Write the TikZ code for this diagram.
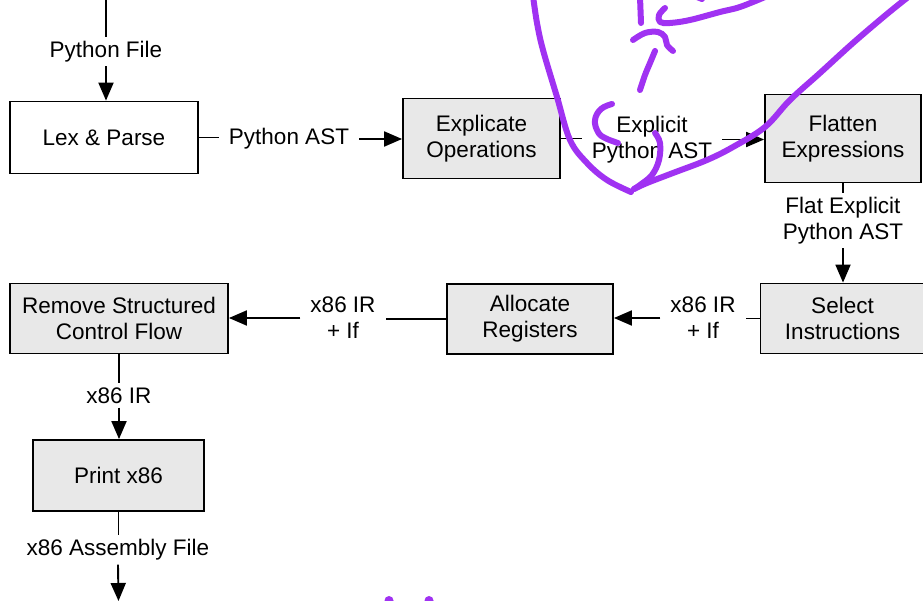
\documentclass[tikz,border=0pt]{standalone}
\usepackage{fontspec}
\setmainfont{Liberation Sans}
\usetikzlibrary{arrows.meta}
\definecolor{boxgray}{RGB}{232,232,232}
\definecolor{scribble}{RGB}{160,50,242}
\begin{document}
\begin{tikzpicture}[x=1pt,y=-1pt,
  every node/.style={font=\fontsize{22.5}{26}\selectfont},
  stage/.style={draw=black,line width=1.8pt,fill=boxgray,align=center,inner sep=0pt},
  lbl/.style={align=center,inner xsep=10pt,inner ysep=4pt,fill=white},
  conn/.style={line width=1.9pt},
  arr/.style={line width=1.9pt,-{Triangle[length=18pt,width=15pt]}},
  scrib/.style={draw=scribble,line width=6pt,line cap=round,line join=round}]
\useasboundingbox (0,0) rectangle (923,601);
\fill[white] (0,0) rectangle (923,601);

% stages
\node[stage,fill=white,minimum width=188pt,minimum height=72pt] (lp) at (104,137.5) {Lex \& Parse};
\node[stage,minimum width=157pt,minimum height=80pt] (eo) at (481.5,138.5) {Explicate\\Operations};
\node[stage,minimum width=156pt,minimum height=88pt] (fe) at (843,138.5) {Flatten\\Expressions};
\node[stage,minimum width=164pt,minimum height=70pt] (si) at (842.5,318.5) {Select\\Instructions};
\node[stage,minimum width=166pt,minimum height=70pt] (ar) at (530,319) {Allocate\\Registers};
\node[stage,minimum width=218pt,minimum height=70pt] (rs) at (119,318.5) {Remove Structured\\Control Flow};
\node[stage,minimum width=171pt,minimum height=71pt] (px) at (118.5,475.5) {Print x86};

% labels
\node[lbl] (pf) at (106,51.5) {Python File};
\node[lbl] (pa) at (289,139) {Python AST};
\node[lbl] (ep) at (652,139.5) {Explicit\\Python AST};
\node[lbl] (fp) at (843,220.5) {Flat Explicit\\Python AST};
\node[lbl] (ir1) at (703,318) {x86 IR\\+ If};
\node[lbl] (ir2) at (343,318) {x86 IR\\+ If};
\node[lbl] (ir3) at (119,395.5) {x86 IR};
\node[lbl] (af) at (118,550) {x86 Assembly File};
\coordinate (in) at (106,0);
\coordinate (out) at (118.5,601);

% connectors
\draw[conn] (in) -- (pf.north);
\draw[arr] (pf.south) -- (pf.south |- lp.north);
\draw[conn] (lp.east) -- (lp.east -| pa.west);
\draw[arr] (pa.east) -- (pa.east -| eo.west);
\draw[conn] (eo.east) -- (eo.east -| ep.west);
\draw[arr] (ep.east) -- (ep.east -| fe.west);
\draw[conn] (fe.south) -- (fe.south |- fp.north);
\draw[arr] (fp.south) -- (fp.south |- si.north);
\draw[conn] (si.west) -- (si.west -| ir1.east);
\draw[arr] (ir1.west) -- (ir1.west -| ar.east);
\draw[conn] (ar.west) -- (ar.west -| ir2.east);
\draw[arr] (ir2.west) -- (ir2.west -| rs.east);
\draw[conn] (rs.south) -- (rs.south |- ir3.north);
\draw[arr] (ir3.south) -- (ir3.south |- px.north);
\draw[conn] (px.south) -- (px.south |- af.north);
\draw[arr] (af.south) -- (out);

% hand-drawn annotation
\begin{scope}
\clip (0,0) rectangle (923,601);
\draw[scrib] plot[smooth,tension=0.6] coordinates {(533,-4) (537,23) (543,50) (557,97) (570,140) (587,163) (607,180) (631,192)};
\draw[scrib] plot[smooth,tension=0.6] coordinates {(634,189) (647,183) (673,173) (707,160) (733,147) (765,127) (790,100) (820,73) (853,43) (887,14) (912,-6)};
\draw[scrib] plot[smooth,tension=0.6] coordinates {(655,133) (660,143) (659,160) (652,175) (640,185) (634,189)};
\draw[scrib] plot[smooth,tension=0.7] coordinates {(612,104) (601,109) (595,120) (598,132) (605,138) (618,143)};
\draw[scrib] (640,-3) -- (641,23);
\draw[scrib] plot[smooth,tension=0.6] coordinates {(665,8) (659,15) (660,22) (670,23) (690,20) (720,12) (740,7) (765,-3)};
\draw[scrib] (697,-3) -- (702,-1);
\draw[scrib] plot[smooth,tension=0.6] coordinates {(633,40) (645,33) (658,32) (665,37) (667,45) (673,51)};
\draw[scrib] plot[smooth,tension=0.6] coordinates {(655,51) (650,63) (645,75) (640,90)};
\fill[scribble] (389,600.5) circle (4.5pt);
\fill[scribble] (429,600.5) circle (4.5pt);
\end{scope}
\end{tikzpicture}
\end{document}
